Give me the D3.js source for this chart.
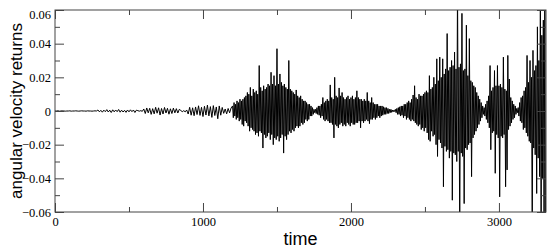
<!DOCTYPE html>
<html>
<head>
<meta charset="utf-8">
<script src="https://cdn.jsdelivr.net/npm/d3@7"></script>
<style>
    body { margin: 0; background: #fff; }
    .title { font-family: "Liberation Sans", Arial, sans-serif; fill: #000; }
</style>
</head>
<body>
<div id="chart"></div>
<script>
// returns are written in thousandths, one era at a time
var returnUnit = 0.001;

// quiet start, sampled every 10 time units
var calmStart = 0, calmStep = 10;
var calmReturns = [
    0, 0, 0.1, -0.1, 0, 0.1, 0, -0.1, 0, 0,
    0.1, -0.1, 0, 0, 0.1, 0, -0.1, 0, 0.1, 0,
    0, -0.1, 0.1, 0, 0, -0.1, 0, 0.1, 0,
    0.6, -0.5, 0.4, -0.7, 0.5, -0.4, 0.8, -0.6, 0.5, -0.9,
    0.7, -0.5, 0.6, -0.4, 0.9, -0.7, 0.5, -0.6, 0.4, -0.8,
    0.6, -0.5, 0.7, -0.4, 0.6, -0.9, 0.5, 0.2, -0.1, 0.2, -0.2
];

var rippleStart = 600, rippleStep = 10;
var rippleReturns = [
    1.2, -1.5, 1.8, -1.1, 1.6, -2, 1.4, -1.7, 2.2, -1.3,
    1.9, -2.4, 1.5, -1.8, 2.1, -1.2, 1.6, -1.9, 1.3, -1.5,
    1.7, -1.1, 1.4, -1.2, 1,
    0.3, -0.4, 0.2, -0.5, 0.6,
    -1.8, 2.2, -2.5, 1.9, -2.8, 2.4, -2.1, 3.1, -2.6, 2.2,
    -3.3, 2.8, -2.4, 3.5, -2.9, 2.6, -3.8, 3.2, -2.7, 2.4,
    -4.6, 3, -2.5, 2.1,
    -1.4, 1.2, -1.7, 1.5, -1.1, 1.8
];

// the bursts, sampled every 5 time units
var burst1Start = 1200, burst1Step = 5;
var burst1Returns = [
    3, -4, 5, -3, 4, -5, 6, -4, 5, -6,
    7, -5, 6, -8, 7, -9, 8, -6, 9, -7,
    11, -9, 10, -12, 14, -10, 9, -11, 13, -12,
    11, -14, 12, -13, 10, -15, 27, -12, 14, -13,
    12, -22, 15, -14, 13, -16, 14, -15, 16, -13,
    15, -17, 23, -14, 16, -20, 21, -16, 15, -17,
    37, -15, 16, -18, 22, -16, 17, -14, 15, -25,
    16, -15, 14, -17, 13, -14, 30, -12, 13, -13,
    12, -11, 11, -12, 10, -10, 12.5, -9, 9, -10,
    8, -9, 9, -7, 7, -8, 6, -7, 6, -5,
    5, -6, 4, -5, 4, -3, 3, -3, 2, -2,
    1, -1
];

var burst2Start = 1760, burst2Step = 5;
var burst2Returns = [
    1, -1.5, 2, -2, 3, -2.5, 3, -4, 4, -3,
    8, -5, 5, -6, 6, -5, 7, -6, 6, -7,
    15.5, -7, 8, -8, 7, -16, 20, -8, 9, -9,
    8, -10, 13.7, -8, 9, -7, 11, -9, 8, -8,
    7, -9, 8, -7, 9, -8, 7, -9, 8, -7,
    9, -8, 7, -8, 8, -7, 12, -7, 8, -6,
    7, -10, 7, -6, 6, -7, 7, -6, 6, -5,
    11, -6, 6, -7.5, 5, -5, 8, -5, 5, -4,
    4, -5, 4, -4, 4, -3, 3, -4, 3, -3,
    3, -2.5, 2.5, -2, 2, -2, 2, -1.5, 1.5, -1.5,
    1, -1, 1, -0.8, 0.6, -0.5, 0.5, -0.3
];

var burst3Start = 2300, burst3Step = 5;
var burst3Returns = [
    1, -1, 1.5, -2, 2, -2, 2.5, -3, 3, -2.5,
    3, -4, 4, -3, 4, -5, 5, -4, 6, -5,
    5, -6, 7, -5, 9.5, -6, 15, -7, 8, -8,
    7, -9, 10, -8, 9, -11, 9, -10, 10, -12,
    11, -10, 12, -13, 11, -17, 21, -18, 13, -12,
    14, -15, 20, -14, 16, -20, 31, -27, 18, -17,
    32, -19, 20, -22, 31, -45, 22, -21, 25, -24,
    46, -23, 24, -28, 26, -24, 30, -53, 27, -25,
    35, -26, 25, -30, 75, -24, 26, -75, 28, -25,
    58, -27, 24, -55, 25, -22, 51, -23, 21, -20,
    43, -19, 18, -39, 17, -16, 15, -14, 14, -12,
    11, -10, 9, -8, 7, -6, 5, -4, 3, -2
];

var burst4Start = 2900, burst4Step = 5;
var burst4Returns = [
    2, -3, 4, -5, 6, -7, 9, -10, 27, -23,
    12, -13, 14, -12, 24, -37, 15, -14, 27, -16,
    15, -51, 16, -15, 14, -16, 32, -14, 13, -45,
    12, -35, 33, -11, 19, -9, 8, -7, 6, -5,
    4, -4, 3, -2, 1.5, -1
];

var burst5Start = 3130, burst5Step = 5;
var burst5Returns = [
    2, -3, 5, -6, 8, -7, 9, -11, 12, -10,
    14, -13, 33, -15, 17, -18, 30, -19, 20, -75,
    36, -22, 24, -26, 27, -49, 50, -28, 30, -39,
    75, -75, 45, -40, 54, -75, 75, -75
];

var timeTicks = [0, 1000, 2000, 3000],
    timeMinorTicks = [500, 1500, 2500],
    returnTicks = [-0.06, -0.04, -0.02, 0, 0.02, 0.04, 0.06],
    returnMinorTicks = [-0.05, -0.03, -0.01, 0.01, 0.03, 0.05];

var segments = [
    {start: calmStart, step: calmStep, values: calmReturns},
    {start: rippleStart, step: rippleStep, values: rippleReturns},
    {start: burst1Start, step: burst1Step, values: burst1Returns},
    {start: burst2Start, step: burst2Step, values: burst2Returns},
    {start: burst3Start, step: burst3Step, values: burst3Returns},
    {start: burst4Start, step: burst4Step, values: burst4Returns},
    {start: burst5Start, step: burst5Step, values: burst5Returns}
];

var series = [];
segments.forEach(function(s) {
    s.values.forEach(function(v, i) {
        series.push({t: s.start + i * s.step, r: v * returnUnit});
    });
});

var w = 550,
    h = 248,
    margin = {top: 10, right: 4, bottom: 36, left: 55};

var svg = d3.select("#chart")
    .append("svg")
    .attr("width", w)
    .attr("height", h);

var xScale = d3.scaleLinear().domain([0, 3318])
    .range([margin.left, w - margin.right]);
var yScale = d3.scaleLinear().domain([-0.06, 0.06])
    .range([h - margin.bottom, margin.top]);

svg.append("clipPath")
    .attr("id", "plot-clip")
    .append("rect")
    .attr("x", margin.left)
    .attr("y", margin.top)
    .attr("width", w - margin.left - margin.right)
    .attr("height", h - margin.top - margin.bottom);

var line = d3.line()
    .x(function(d) { return xScale(d.t); })
    .y(function(d) { return yScale(d.r); });

svg.append("path")
    .datum(series)
    .attr("clip-path", "url(#plot-clip)")
    .attr("fill", "none")
    .attr("stroke", "#000")
    .attr("stroke-width", 1)
    .attr("stroke-linejoin", "bevel")
    .attr("d", line);

// ticks point inwards on all four sides, major and minor
function addAxis(axis, transform, labels) {
    var g = svg.append("g")
        .attr("transform", transform)
        .call(axis);
    g.select(".domain").remove();
    g.selectAll(".tick line").attr("stroke", "#444");
    if (!labels) {
        g.selectAll("text").remove();
    } else {
        g.selectAll("text")
            .attr("font-family", "'Liberation Serif', 'DejaVu Serif', serif")
            .attr("font-size", "12.5px")
            .attr("fill", "#000");
    }
    return g;
}

var bottomY = h - margin.bottom,
    rightX = w - margin.right;

addAxis(d3.axisBottom(xScale).tickValues(timeTicks).tickSize(-9).tickPadding(5)
    .tickFormat(d3.format("d")), "translate(0," + bottomY + ")", true);
addAxis(d3.axisBottom(xScale).tickValues(timeMinorTicks).tickSize(-5), "translate(0," + bottomY + ")", false);
addAxis(d3.axisTop(xScale).tickValues(timeTicks).tickSize(-9), "translate(0," + margin.top + ")", false);
addAxis(d3.axisTop(xScale).tickValues(timeMinorTicks).tickSize(-5), "translate(0," + margin.top + ")", false);

var yLabels = addAxis(d3.axisLeft(yScale).tickValues(returnTicks).tickSize(-9).tickPadding(4)
    .tickFormat(function(d) { return d === 0 ? "0" : d3.format(".2f")(d); }),
    "translate(" + margin.left + ",0)", true);
yLabels.selectAll("text").filter(function(d) { return d === 0.06; }).attr("dy", "0.65em");
addAxis(d3.axisLeft(yScale).tickValues(returnMinorTicks).tickSize(-5), "translate(" + margin.left + ",0)", false);
addAxis(d3.axisRight(yScale).tickValues(returnTicks).tickSize(-9), "translate(" + rightX + ",0)", false);
addAxis(d3.axisRight(yScale).tickValues(returnMinorTicks).tickSize(-5), "translate(" + rightX + ",0)", false);

// frame
svg.append("rect")
    .attr("x", margin.left)
    .attr("y", margin.top)
    .attr("width", w - margin.left - margin.right)
    .attr("height", h - margin.top - margin.bottom)
    .attr("fill", "none")
    .attr("stroke", "#444")
    .attr("stroke-width", 1);

svg.append("text")
    .attr("class", "title")
    .attr("x", (margin.left + rightX) / 2)
    .attr("y", 245)
    .attr("text-anchor", "middle")
    .attr("font-size", "18px")
    .text("time");

svg.append("text")
    .attr("class", "title")
    .attr("transform", "translate(22," + yScale(0) + ") rotate(-90)")
    .attr("text-anchor", "middle")
    .attr("font-size", "17px")
    .text("angular velocity returns");
</script>
</body>
</html>
